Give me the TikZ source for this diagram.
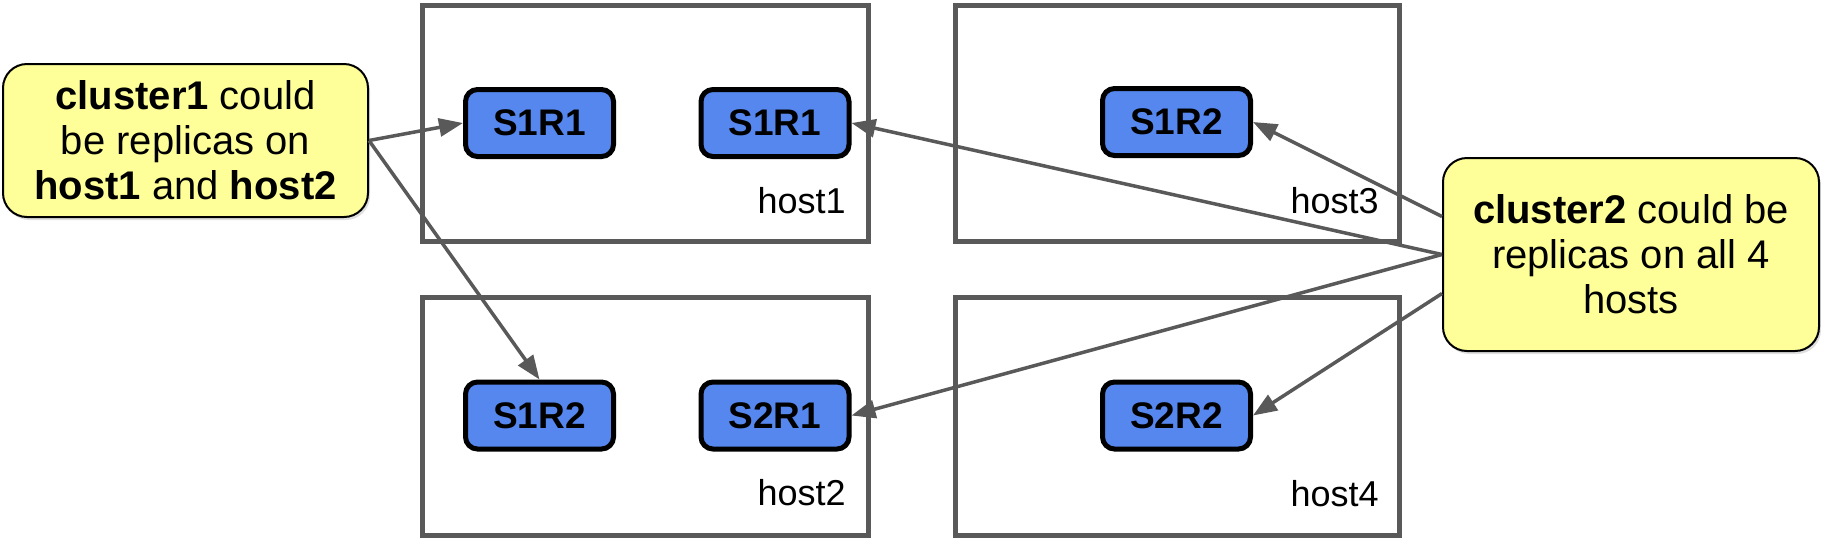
\documentclass[tikz,border=0pt]{standalone}
\usepackage{fontspec}
\setmainfont{Liberation Sans}
\usetikzlibrary{arrows.meta,calc,shadows}
\definecolor{linegray}{HTML}{595959}
\definecolor{repblue}{HTML}{5587EE}
\definecolor{noteyellow}{HTML}{FFFF99}
\begin{document}
\begin{tikzpicture}[x=0.5pt,y=-0.5pt,
  hostbox/.style={draw=linegray,line width=2.5pt},
  hostlabel/.style={anchor=base east,inner sep=0pt,font=\fontsize{18pt}{20pt}\selectfont},
  replica/.style={draw=black,line width=2.5pt,fill=repblue,rounded corners=6pt,
    minimum width=74pt,minimum height=33.5pt,inner sep=0pt,
    font=\fontsize{18.5pt}{20pt}\selectfont\bfseries},
  note/.style={draw=black,line width=1pt,fill=noteyellow,rounded corners=12pt,
    align=center,inner sep=0pt,font=\fontsize{20pt}{22.5pt}\selectfont,
    drop shadow={opacity=0.25,shadow xshift=1pt,shadow yshift=-1.5pt}},
  conn/.style={draw=linegray,line width=1.75pt,-{Triangle[length=12pt,width=9pt]}}]
\useasboundingbox (0,0) rectangle (1821,543);
% host boxes
\draw[hostbox] (422,5) rectangle (868,241);
\draw[hostbox] (422,297) rectangle (868,535);
\draw[hostbox] (955,5) rectangle (1399,241);
\draw[hostbox] (955,297) rectangle (1399,535);
\node[hostlabel] (h1) at (846,213) {host1};
\node[hostlabel] (h2) at (846,505) {host2};
\node[hostlabel] (h3) at (1379,213) {host3};
\node[hostlabel] (h4) at (1379,506) {host4};
% replicas
\node[replica] (r1) at (539.5,123) {S1R1};
\node[replica] (r2) at (775,123) {S1R1};
\node[replica] (r3) at (539.5,415.5) {S1R2};
\node[replica] (r4) at (775,415.5) {S2R1};
\node[replica] (r5) at (1176.5,122) {S1R2};
\node[replica] (r6) at (1176.5,415.5) {S2R2};
% notes
\node[note,minimum width=182.5pt,minimum height=76.5pt] (c1) at (185.5,140.5)
  {\textbf{cluster1} could\\be replicas on\\\textbf{host1} and \textbf{host2}};
\node[note,minimum width=188pt,minimum height=96.5pt] (c2) at (1631,254.5)
  {\textbf{cluster2} could be\\replicas on all 4\\hosts};
% connectors
\draw[conn] (c1.east) -- (r1.west);
\draw[conn] (c1.east) -- (r3.north);
\coordinate (c2a) at ($(c2.west)+(0,-38)$);
\coordinate (c2c) at ($(c2.west)+(0,39)$);
\draw[conn] (c2.west) -- (r2.east);
\draw[conn] (c2.west) -- (r4.east);
\draw[conn] (c2a) -- (r5.east);
\draw[conn] (c2c) -- (r6.east);
\end{tikzpicture}
\end{document}
